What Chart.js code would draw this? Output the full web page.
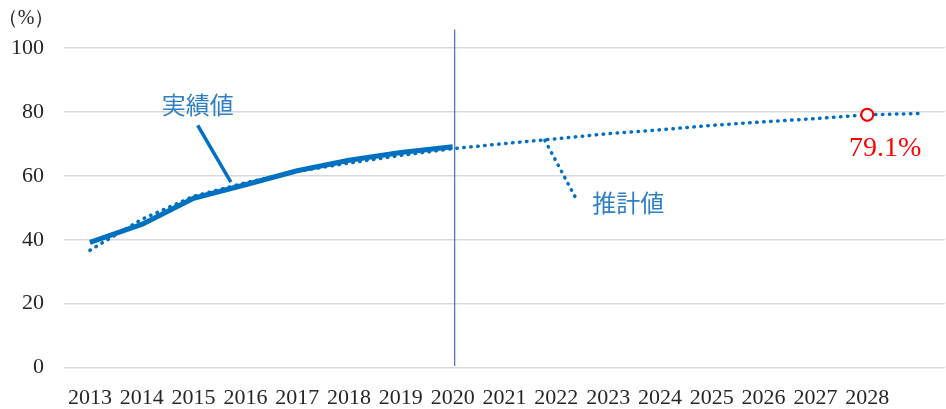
<!DOCTYPE html>
<html>
<head>
<meta charset="utf-8">
<script src="https://cdn.jsdelivr.net/npm/chart.js@4.4.1/dist/chart.umd.min.js"></script>
<style>
    html, body { margin: 0; padding: 0; background: #fff; }
    #wrap { width: 946px; height: 409px; position: relative; }
</style>
</head>
<body>
<div id="wrap"><canvas id="rateChart"></canvas></div>
<script>
// -------------------------------
// DATA
// -------------------------------
const years = ["2013","2014","2015","2016","2017","2018","2019","2020",
               "2021","2022","2023","2024","2025","2026","2027","2028",""];
const actual = [39.2, 44.8, 53.0, 57.2, 61.6, 64.9, 67.3, 69.1,
                null, null, null, null, null, null, null, null, null];
const estimate = [36.7, 46.4, 53.6, 57.8, 61.4, 64.0, 66.4, 68.5,
                  70.1, 71.6, 73.2, 74.4, 75.8, 76.9, 77.9, 79.1, 79.5];
const yTicks = [0, 20, 40, 60, 80, 100];
const splitYear = "2020";
const highlightYear = "2028";

const BLUE = "#0070C0";
const TEXT_BLUE = "#2f7fc5";
const SERIF = "'Liberation Serif', 'DejaVu Serif', serif";
const JP = "'Noto Sans CJK JP', sans-serif";

const hiIdx = years.indexOf(highlightYear);
const splitIdx = years.indexOf(splitYear);

// -------------------------------
// ANNOTATIONS (divider, leaders, labels)
// -------------------------------
const notes = {
    id: "notes",
    afterDatasetsDraw(chart) {
        const c = chart.ctx;
        const x = chart.scales.x, y = chart.scales.y;
        const px = i => x.getPixelForValue(i);
        const py = v => y.getPixelForValue(v);

        c.save();

        // vertical divider at 2020
        c.strokeStyle = "#4472C4";
        c.lineWidth = 1.2;
        c.beginPath();
        c.moveTo(px(splitIdx) + 2, py(105.8));
        c.lineTo(px(splitIdx) + 2, py(0.5));
        c.stroke();

        // 実績値 leader
        c.strokeStyle = BLUE;
        c.lineWidth = 3.5;
        c.lineCap = "butt";
        c.beginPath();
        c.moveTo(px(2.08), py(75.8));
        c.lineTo(px(2.72), py(58.0));
        c.stroke();

        // 推計値 leader (dotted)
        c.lineWidth = 3.5;
        c.lineCap = "round";
        c.setLineDash([0.5, 6.5]);
        c.beginPath();
        c.moveTo(px(8.78), py(71.1));
        c.lineTo(px(9.40), py(52.3));
        c.stroke();
        c.setLineDash([]);

        c.fillStyle = TEXT_BLUE;
        c.font = "24px " + JP;
        c.textAlign = "center";
        c.textBaseline = "middle";
        c.fillText("実績値", px(2.08), py(82.2));
        c.fillText("推計値", px(10.39), py(51.4));

        // highlighted value
        c.fillStyle = "#FF0000";
        c.font = "28px " + SERIF;
        c.fillText(estimate[hiIdx].toFixed(1) + "%", px(hiIdx) + 18, py(estimate[hiIdx]) + 34);

        // unit
        c.fillStyle = "#262626";
        c.font = "20px " + SERIF;
        c.fillText("（%）", 26, 19);

        c.restore();
    }
};

// -------------------------------
// CHART
// -------------------------------
const ctx = document.getElementById("rateChart").getContext("2d");

new Chart(ctx, {
    type: "line",
    data: {
        labels: years,
        datasets: [
            {
                label: "実績値",
                data: actual,
                borderColor: BLUE,
                borderWidth: 5,
                borderJoinStyle: "round",
                pointRadius: 0,
                tension: 0
            },
            {
                label: "推計値",
                data: estimate,
                borderColor: BLUE,
                borderWidth: 3.5,
                borderDash: [0.5, 6.5],
                borderCapStyle: "round",
                pointRadius: c => c.dataIndex === hiIdx ? 6 : 0,
                pointBorderWidth: 2.2,
                pointBorderColor: "#FF0000",
                pointBackgroundColor: "#fff",
                tension: 0
            }
        ]
    },
    options: {
        responsive: true,
        maintainAspectRatio: false,
        animation: false,
        layout: { padding: { left: -9, right: 1, top: 48, bottom: -19 } },
        plugins: {
            legend: { display: false },
            tooltip: { enabled: false }
        },
        scales: {
            x: {
                offset: true,
                grid: { display: false, drawTicks: false },
                border: { display: false },
                ticks: {
                    color: "#262626",
                    font: { family: SERIF, size: 22 },
                    padding: 17,
                    maxRotation: 0,
                    autoSkip: false
                }
            },
            y: {
                min: 0,
                max: 100,
                afterBuildTicks: s => { s.ticks = yTicks.map(v => ({ value: v })); },
                grid: { color: "#d9d9d9", lineWidth: 1.5, drawTicks: false },
                border: { display: false },
                ticks: {
                    color: "#262626",
                    font: { family: SERIF, size: 22 },
                    padding: 20
                }
            }
        }
    },
    plugins: [notes]
});
</script>
</body>
</html>
